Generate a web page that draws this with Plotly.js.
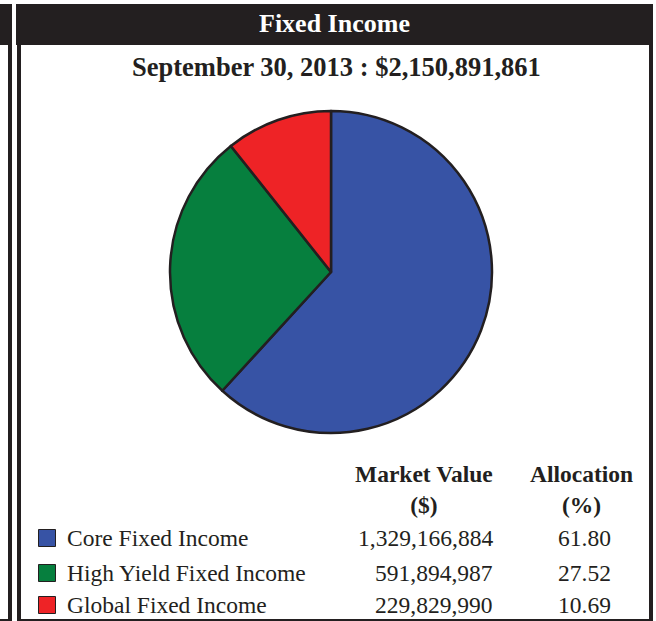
<!DOCTYPE html>
<html>
<head>
<meta charset="utf-8">
<script src="https://cdn.plot.ly/plotly-3.0.1.min.js"></script>
<style>
html,body{margin:0;padding:0;background:#fff;}
#chart{width:656px;height:621px;}
</style>
</head>
<body>
<div id="chart"></div>
<script>
const panelTitle = 'Fixed Income';
const asOfDate = 'September 30, 2013';
const totalValue = 2150891861;
const categories = ['Core Fixed Income', 'High Yield Fixed Income', 'Global Fixed Income'];
const marketValues = [1329166884, 591894987, 229829990];
const allocations = [61.80, 27.52, 10.69];
const sliceColors = ['#3753a5', '#067f3e', '#ee2326'];
const columnHeaders = [['Market Value', '($)'], ['Allocation', '(%)']];

const W = 656, H = 621;
const px = x => x / W;
const py = y => 1 - y / H;
const dark = '#231f20';
const serif = 'Liberation Serif, Times New Roman, serif';

// pie geometry
const cx = 331, cy = 272, r = 161;

const shapes = [];
function rect(x0, y0, x1, y1, fill) {
  shapes.push({type: 'rect', xref: 'paper', yref: 'paper',
    x0: px(x0), x1: px(x1), y0: py(y1), y1: py(y0),
    fillcolor: fill, line: {width: 0}, layer: 'above'});
}
// left neighbour strip
rect(0, 4, 12, 45, dark);
rect(8, 45, 12, 621, dark);
rect(0, 619, 12, 621, dark);
// panel header & borders
rect(16, 4, 653, 45, dark);
rect(17, 45, 21, 621, dark);
rect(649, 45, 653, 621, dark);
rect(17, 619, 653, 621, dark);

const annotations = [];
function txt(text, x, y, size, bold, anchor, color) {
  annotations.push({xref: 'paper', yref: 'paper', x: px(x), y: py(y),
    text: bold ? '<b>' + text + '</b>' : text, showarrow: false,
    xanchor: anchor, yanchor: 'middle', align: 'center',
    font: {family: serif, size: size, color: color || dark}});
}
txt(panelTitle, 335, 24, 26, true, 'center', '#ffffff');
txt(asOfDate + ' : $' + totalValue.toLocaleString('en-US'), 336, 67, 26.5, true, 'center');

const colX = [423.5, 581.5];
columnHeaders.forEach((h, i) => {
  txt(h[0] + '<br>' + h[1], colX[i], 490, 23.5, true, 'center');
});

const rowY = [538, 573, 605];
categories.forEach((c, i) => {
  const y = rowY[i];
  shapes.push({type: 'rect', xref: 'paper', yref: 'paper',
    x0: px(38.5), x1: px(55.5), y0: py(y + 8.5), y1: py(y - 8.5),
    fillcolor: sliceColors[i], line: {color: dark, width: 1}, layer: 'above'});
  txt(c, 65, y, 23.5, false, 'left');
  txt(marketValues[i].toLocaleString('en-US'), 495, y, 23.5, false, 'right');
  txt(allocations[i].toFixed(2), 613, y, 23.5, false, 'right');
});

const trace = {
  type: 'pie',
  labels: categories,
  values: marketValues,
  sort: false,
  direction: 'clockwise',
  rotation: 0,
  textinfo: 'none',
  hoverinfo: 'label+value+percent',
  marker: {colors: sliceColors, line: {color: dark, width: 2.5}},
  domain: {x: [px(cx - r), px(cx + r)], y: [py(cy + r), py(cy - r)]},
  showlegend: false
};

Plotly.newPlot('chart', [trace], {
  width: W, height: H,
  margin: {l: 0, r: 0, t: 0, b: 0},
  paper_bgcolor: '#ffffff',
  showlegend: false,
  shapes: shapes,
  annotations: annotations
}, {displayModeBar: false, staticPlot: true});
</script>
</body>
</html>
